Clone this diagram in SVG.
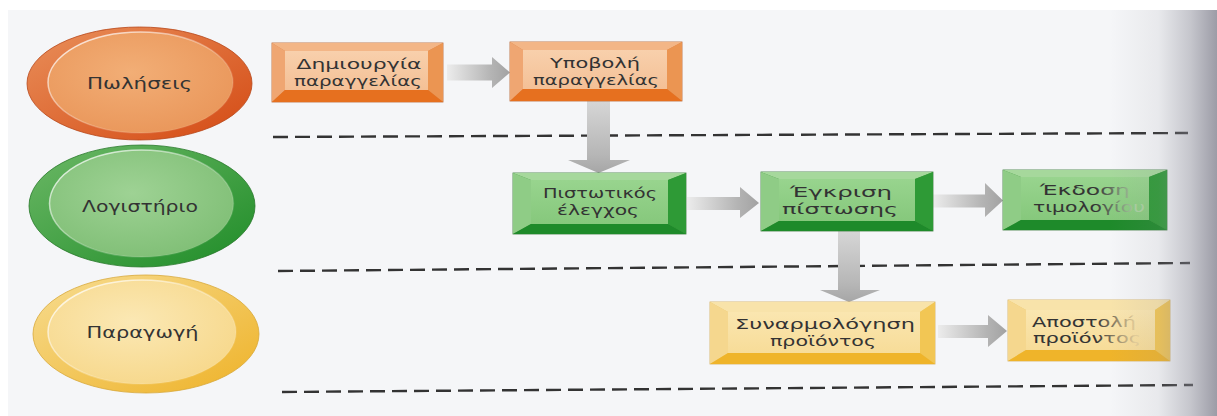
<svg xmlns="http://www.w3.org/2000/svg" width="1217" height="416" viewBox="0 0 1217 416">
  <defs>
    <style>
      .lbl { font-family: "DejaVu Sans", "Liberation Sans", sans-serif; font-size: 14.5px; fill: #333; text-anchor: middle; }
      .lane { font-size: 15.5px; }
      .dash { fill: none; stroke: #333; stroke-width: 2.4; stroke-dasharray: 15 7; }
      .edge-o { fill: #dc8448; stroke: #b8612c; stroke-width: 0.8; }
      .top-o { fill: #f3b687; }
      .left-o { fill: #efa672; }
      .right-o { fill: #eb9552; }
      .bot-o { fill: #e6701f; }
      .face-o { fill: url(#faceO); }
      .edge-g { fill: #4a9a48; stroke: #3a7a3a; stroke-width: 0.8; }
      .top-g { fill: #a6d89c; }
      .left-g { fill: #8fcc86; }
      .right-g { fill: #2e9a36; }
      .bot-g { fill: #1e8a2a; }
      .face-g { fill: url(#faceG); }
      .edge-y { fill: #eac86a; stroke: #d4ae5a; stroke-width: 0.8; }
      .top-y { fill: #f8e3aa; }
      .left-y { fill: #f5d78e; }
      .right-y { fill: #f2c654; }
      .bot-y { fill: #efb42a; }
      .face-y { fill: url(#faceY); }
      .ah { fill: url(#arrowH); }
      .av { fill: url(#arrowV); }
    </style>
    <linearGradient id="faceO" x1="0" y1="0" x2="0" y2="1">
      <stop offset="0" stop-color="#f8d0ac"/>
      <stop offset="1" stop-color="#f4c096"/>
    </linearGradient>
    <linearGradient id="faceG" x1="0" y1="0" x2="0" y2="1">
      <stop offset="0" stop-color="#98d48e"/>
      <stop offset="1" stop-color="#86c87c"/>
    </linearGradient>
    <linearGradient id="faceY" x1="0" y1="0" x2="0" y2="1">
      <stop offset="0" stop-color="#fae6b0"/>
      <stop offset="1" stop-color="#f7dc98"/>
    </linearGradient>
    <linearGradient id="arrowH" x1="0" y1="0" x2="1" y2="0">
      <stop offset="0" stop-color="#ececec"/>
      <stop offset="0.7" stop-color="#b4b4b4"/>
      <stop offset="1" stop-color="#a2a2a2"/>
    </linearGradient>
    <linearGradient id="arrowV" x1="0" y1="0" x2="0" y2="1">
      <stop offset="0" stop-color="#d6d6d6"/>
      <stop offset="0.75" stop-color="#b6b6b6"/>
      <stop offset="1" stop-color="#a6a6a6"/>
    </linearGradient>
    <linearGradient id="rimO" x1="0" y1="0" x2="1" y2="1">
      <stop offset="0" stop-color="#e98f5a"/>
      <stop offset="1" stop-color="#d44a14"/>
    </linearGradient>
    <radialGradient id="innerO" cx="0.45" cy="0.4" r="0.6">
      <stop offset="0" stop-color="#f2ae76"/>
      <stop offset="1" stop-color="#ea985c"/>
    </radialGradient>
    <linearGradient id="rimG" x1="0" y1="0" x2="1" y2="1">
      <stop offset="0" stop-color="#6cb866"/>
      <stop offset="1" stop-color="#1f8c28"/>
    </linearGradient>
    <radialGradient id="innerG" cx="0.45" cy="0.4" r="0.6">
      <stop offset="0" stop-color="#9ed294"/>
      <stop offset="1" stop-color="#82c078"/>
    </radialGradient>
    <linearGradient id="rimY" x1="0" y1="0" x2="1" y2="1">
      <stop offset="0" stop-color="#f7dc90"/>
      <stop offset="1" stop-color="#eeb228"/>
    </linearGradient>
    <radialGradient id="innerY" cx="0.45" cy="0.4" r="0.6">
      <stop offset="0" stop-color="#fbe8b4"/>
      <stop offset="1" stop-color="#f7d98e"/>
    </radialGradient>
    <linearGradient id="hl" x1="0" y1="0" x2="1" y2="1">
      <stop offset="0" stop-color="#ffffff" stop-opacity="0.9"/>
      <stop offset="0.6" stop-color="#ffffff" stop-opacity="0.2"/>
      <stop offset="1" stop-color="#ffffff" stop-opacity="0"/>
    </linearGradient>
    <linearGradient id="fadeG" gradientUnits="userSpaceOnUse" x1="1095" y1="0" x2="1135" y2="0">
      <stop offset="0" stop-color="#333"/>
      <stop offset="1" stop-color="#a9cfa0"/>
    </linearGradient>
    <linearGradient id="fadeY" gradientUnits="userSpaceOnUse" x1="1095" y1="0" x2="1135" y2="0">
      <stop offset="0" stop-color="#333"/>
      <stop offset="1" stop-color="#e6cf98"/>
    </linearGradient>
    <linearGradient id="shade" gradientUnits="userSpaceOnUse" x1="1110" y1="0" x2="1217" y2="0">
      <stop offset="0" stop-color="#8c8c98" stop-opacity="0"/>
      <stop offset="0.45" stop-color="#8c8c98" stop-opacity="0.12"/>
      <stop offset="0.75" stop-color="#8c8c98" stop-opacity="0.45"/>
      <stop offset="1" stop-color="#8c8c98" stop-opacity="0.85"/>
    </linearGradient>
  </defs>

  <!-- page -->
  <rect x="0" y="0" width="1217" height="416" fill="#ffffff"/>
  <rect x="8" y="10" width="1209" height="406" fill="#f5f6f8"/>

  <!-- lane separators -->
  <g id="lane-separators">
    <line class="dash" x1="273" y1="137" x2="1188" y2="133"/>
    <line class="dash" x1="278" y1="271" x2="1190" y2="263"/>
    <line class="dash" x1="282" y1="392" x2="1193" y2="385"/>
  </g>

  <!-- lane headers -->
  <g id="lane-sales">
    <ellipse cx="139.5" cy="83.5" rx="112.5" ry="56.5" fill="url(#rimO)" stroke="#b8481a" stroke-width="0.8"/>
    <ellipse cx="140.5" cy="82.5" rx="92.5" ry="50.5" fill="url(#innerO)" stroke="url(#hl)" stroke-width="1.5"/>
    <text class="lbl lane" x="139.5" y="89" textLength="105" lengthAdjust="spacingAndGlyphs">Πωλήσεις</text>
  </g>
  <g id="lane-accounting">
    <ellipse cx="142" cy="206" rx="113" ry="61" fill="url(#rimG)" stroke="#2a7a2c" stroke-width="0.8"/>
    <ellipse cx="141.5" cy="203.5" rx="92" ry="53.5" fill="url(#innerG)" stroke="url(#hl)" stroke-width="1.5"/>
    <text class="lbl lane" x="140" y="212" textLength="116" lengthAdjust="spacingAndGlyphs">Λογιστήριο</text>
  </g>
  <g id="lane-production">
    <ellipse cx="146" cy="334" rx="113" ry="59" fill="url(#rimY)" stroke="#d8a838" stroke-width="0.8"/>
    <ellipse cx="142" cy="332" rx="94" ry="52" fill="url(#innerY)" stroke="url(#hl)" stroke-width="1.5"/>
    <text class="lbl lane" x="142.5" y="338" textLength="112" lengthAdjust="spacingAndGlyphs">Παραγωγή</text>
  </g>

  <!-- flow arrows -->
  <g id="connectors">
    <polygon class="ah" points="447,64.5 492,64.5 492,57 510,72.5 492,88 492,80.5 447,80.5"/>
    <polygon class="av" points="587,101 610,101 610,160 630,160 598.5,173 568,160 587,160"/>
    <polygon class="ah" points="687,197 740,197 740,187 759,203 740,218 740,210 687,210"/>
    <polygon class="ah" points="933,194.5 985,194.5 985,183 1003,200.5 985,217 985,207.5 933,207.5"/>
    <polygon class="av" points="838,231 860,231 860,290 880,290 849,302 820,290 838,290"/>
    <polygon class="ah" points="938,325 988,325 988,315 1007,331 988,347 988,338 938,338"/>
  </g>

  <!-- process steps -->
  <g id="step-create-order">
    <rect class="edge-o" x="272" y="43" width="171" height="59"/>
    <polygon class="top-o" points="272,43 443,43 428,51 285,51"/>
    <polygon class="left-o" points="272,43 285,51 285,90 272,102"/>
    <polygon class="right-o" points="443,43 443,102 428,90 428,51"/>
    <polygon class="bot-o" points="272,102 285,90 428,90 443,102"/>
    <rect class="face-o" x="285" y="51" width="143" height="39"/>
    <text class="lbl" x="359" y="69" textLength="125" lengthAdjust="spacingAndGlyphs">Δημιουργία</text>
    <text class="lbl" x="358" y="86" textLength="128" lengthAdjust="spacingAndGlyphs">παραγγελίας</text>
  </g>
  <g id="step-submit-order">
    <rect class="edge-o" x="510" y="42" width="172" height="59"/>
    <polygon class="top-o" points="510,42 682,42 667,50 523,50"/>
    <polygon class="left-o" points="510,42 523,50 523,89 510,101"/>
    <polygon class="right-o" points="682,42 682,101 667,89 667,50"/>
    <polygon class="bot-o" points="510,101 523,89 667,89 682,101"/>
    <rect class="face-o" x="523" y="50" width="144" height="39"/>
    <text class="lbl" x="595" y="68" textLength="90" lengthAdjust="spacingAndGlyphs">Υποβολή</text>
    <text class="lbl" x="596" y="85" textLength="126" lengthAdjust="spacingAndGlyphs">παραγγελίας</text>
  </g>
  <g id="step-credit-check">
    <rect class="edge-g" x="513" y="173" width="173" height="61"/>
    <polygon class="top-g" points="513,173 686,173 668,180 531,180"/>
    <polygon class="left-g" points="513,173 531,180 531,224 513,234"/>
    <polygon class="right-g" points="686,173 686,234 668,224 668,180"/>
    <polygon class="bot-g" points="513,234 531,224 668,224 686,234"/>
    <rect class="face-g" x="531" y="180" width="137" height="44"/>
    <text class="lbl" x="600" y="198" textLength="114" lengthAdjust="spacingAndGlyphs">Πιστωτικός</text>
    <text class="lbl" x="598" y="215" textLength="82" lengthAdjust="spacingAndGlyphs">έλεγχος</text>
  </g>
  <g id="step-credit-approval">
    <rect class="edge-g" x="761" y="172" width="172" height="59"/>
    <polygon class="top-g" points="761,172 933,172 915,179 779,179"/>
    <polygon class="left-g" points="761,172 779,179 779,221 761,231"/>
    <polygon class="right-g" points="933,172 933,231 915,221 915,179"/>
    <polygon class="bot-g" points="761,231 779,221 915,221 933,231"/>
    <rect class="face-g" x="779" y="179" width="136" height="42"/>
    <text class="lbl" x="841" y="197" textLength="102" lengthAdjust="spacingAndGlyphs">Έγκριση</text>
    <text class="lbl" x="840" y="214" textLength="116" lengthAdjust="spacingAndGlyphs">πίστωσης</text>
  </g>
  <g id="step-invoice">
    <rect class="edge-g" x="1003" y="170" width="164" height="60"/>
    <polygon class="top-g" points="1003,170 1167,170 1149,177 1021,177"/>
    <polygon class="left-g" points="1003,170 1021,177 1021,220 1003,230"/>
    <polygon class="right-g" points="1167,170 1167,230 1149,220 1149,177"/>
    <polygon class="bot-g" points="1003,230 1021,220 1149,220 1167,230"/>
    <rect class="face-g" x="1021" y="177" width="128" height="43"/>
    <text class="lbl" x="1085" y="195" textLength="90" lengthAdjust="spacingAndGlyphs" style="fill:url(#fadeG)">Έκδοση</text>
    <text class="lbl" x="1089" y="212" textLength="112" lengthAdjust="spacingAndGlyphs" style="fill:url(#fadeG)">τιμολογίου</text>
  </g>
  <g id="step-assembly">
    <rect class="edge-y" x="710" y="302" width="225" height="62"/>
    <polygon class="top-y" points="710,302 935,302 920,312 728,312"/>
    <polygon class="left-y" points="710,302 728,312 728,353 710,364"/>
    <polygon class="right-y" points="935,302 935,364 920,353 920,312"/>
    <polygon class="bot-y" points="710,364 728,353 920,353 935,364"/>
    <rect class="face-y" x="728" y="312" width="192" height="41"/>
    <text class="lbl" x="825" y="329" textLength="180" lengthAdjust="spacingAndGlyphs">Συναρμολόγηση</text>
    <text class="lbl" x="823" y="346" textLength="106" lengthAdjust="spacingAndGlyphs">προϊόντος</text>
  </g>
  <g id="step-shipping">
    <rect class="edge-y" x="1008" y="300" width="162" height="61"/>
    <polygon class="top-y" points="1008,300 1170,300 1155,310 1026,310"/>
    <polygon class="left-y" points="1008,300 1026,310 1026,350 1008,361"/>
    <polygon class="right-y" points="1170,300 1170,361 1155,350 1155,310"/>
    <polygon class="bot-y" points="1008,361 1026,350 1155,350 1170,361"/>
    <rect class="face-y" x="1026" y="310" width="129" height="40"/>
    <text class="lbl" x="1084" y="327" textLength="104" lengthAdjust="spacingAndGlyphs" style="fill:url(#fadeY)">Αποστολή</text>
    <text class="lbl" x="1087" y="343" textLength="108" lengthAdjust="spacingAndGlyphs" style="fill:url(#fadeY)">προϊόντος</text>
  </g>

  <!-- binding shadow along the right edge -->
  <rect x="1110" y="10" width="107" height="406" fill="url(#shade)"/>
</svg>
